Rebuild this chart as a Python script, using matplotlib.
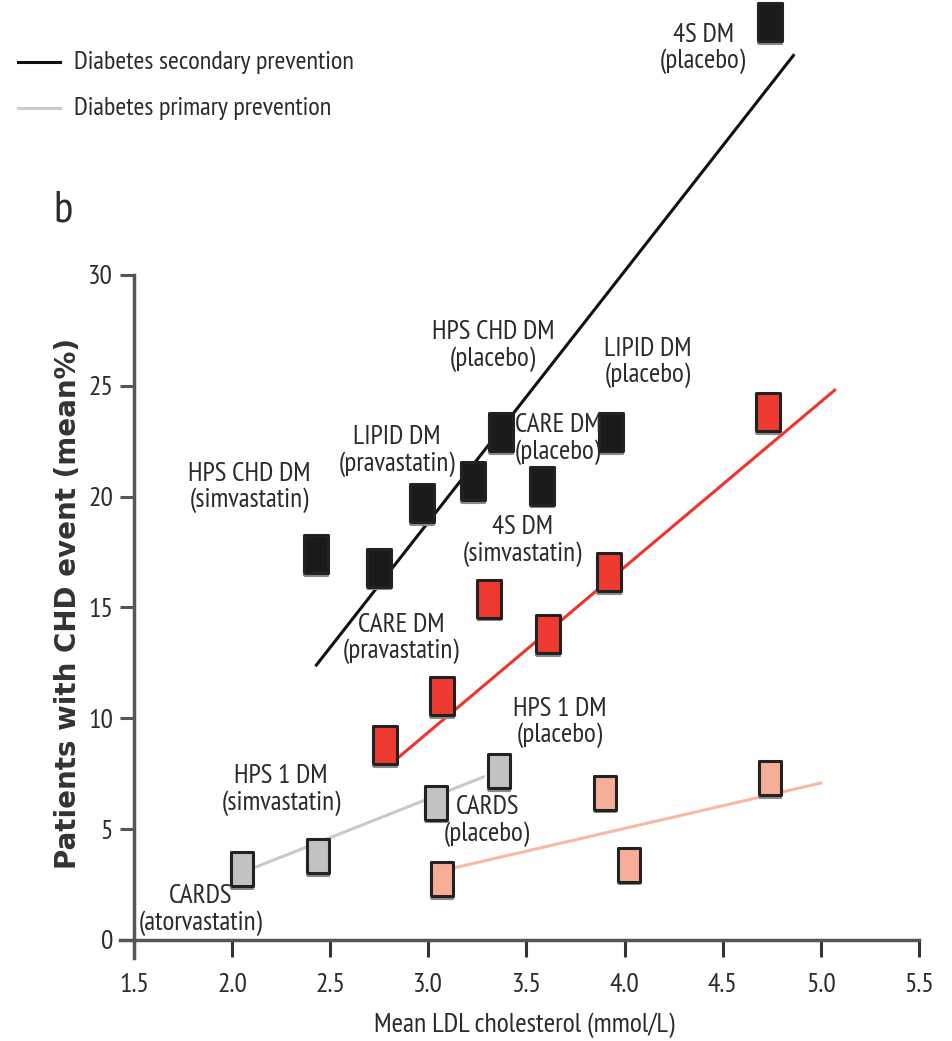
import numpy as np
import matplotlib
matplotlib.use("Agg")
import matplotlib.pyplot as plt
from matplotlib.lines import Line2D

# secondary prevention, placebo/comparator arms (black)
sec_ctrl_x = [2.43, 2.75, 2.97, 3.23, 3.37, 3.58, 3.93, 4.74]
sec_ctrl_y = [17.4, 16.8, 19.7, 20.7, 22.9, 20.5, 22.9, 41.4]
# secondary prevention, second series (red)
sec_trt_x = [2.78, 3.07, 3.31, 3.61, 3.92, 4.73]
sec_trt_y = [8.8, 11.0, 15.4, 13.8, 16.6, 23.8]
# primary prevention (grey)
pri_ctrl_x = [2.05, 2.44, 3.04, 3.36]
pri_ctrl_y = [3.2, 3.8, 6.2, 7.6]
# primary prevention, second series (pink)
pri_trt_x = [3.07, 3.90, 4.02, 4.74]
pri_trt_y = [2.75, 6.65, 3.4, 7.3]

# trend line end points
black_line_x = [2.43, 4.86]
black_line_y = [12.4, 39.9]
red_line_x = [2.85, 5.07]
red_line_y = [8.25, 24.8]
grey_line_x = [2.11, 3.28]
grey_line_y = [3.25, 7.35]
pink_line_x = [3.13, 5.0]
pink_line_y = [3.25, 7.08]

labels = ["4S DM\n(placebo)", "HPS CHD DM\n(placebo)", "LIPID DM\n(placebo)",
          "LIPID DM\n(pravastatin)", "HPS CHD DM\n(simvastatin)", "CARE DM\n(placebo)",
          "4S DM\n(simvastatin)", "CARE DM\n(pravastatin)", "HPS 1 DM\n(placebo)",
          "HPS 1 DM\n(simvastatin)", "CARDS\n(placebo)", "CARDS\n(atorvastatin)"]
label_pos = [(4.40, 40.2), (3.33, 26.8), (4.12, 26.05), (2.84, 22.06), (2.09, 20.4),
             (3.66, 22.6), (3.48, 18.0), (2.86, 13.6), (3.67, 9.8), (2.25, 6.77),
             (3.30, 5.37), (1.84, 1.35)]

xticks = [1.5, 2.0, 2.5, 3.0, 3.5, 4.0, 4.5, 5.0, 5.5]
yticks = [0, 5, 10, 15, 20, 25, 30]

FONT = ["PT Sans Narrow", "Roboto Condensed", "DejaVu Sans"]
TXT = "#2b2b2b"
SPINE = "#555555"

fig = plt.figure(figsize=(9.53, 10.41), dpi=100)
ax = fig.add_axes([0.126, 0.080, 0.8425, 0.92])
ax.set_xlim(1.43, 5.52)
ax.set_ylim(-0.8, 42.4)

rect = [(-0.32, -0.5), (0.32, -0.5), (0.32, 0.5), (-0.32, 0.5), (-0.32, -0.5)]

# trend lines
ax.plot(black_line_x, black_line_y, color="#111111", lw=2.2, zorder=2)
ax.plot(red_line_x, red_line_y, color="#f0332b", lw=2.2, zorder=2)
ax.plot(grey_line_x, grey_line_y, color="#c9c9c9", lw=2.2, zorder=2)
ax.plot(pink_line_x, pink_line_y, color="#f8b8a6", lw=2.2, zorder=2)

def markers(x, y, face, ms):
    # grey "shadow" under each box
    ax.plot(x, np.array(y) - 0.13, ls="none", marker=rect, ms=ms, mfc="#8a8a8a",
            mec="#8a8a8a", mew=1.5, zorder=3)
    ax.plot(x, y, ls="none", marker=rect, ms=ms, mfc=face, mec="#222222",
            mew=2.2, zorder=4)

markers(sec_ctrl_x, sec_ctrl_y, "#1d1a1a", 27)
markers(sec_trt_x, sec_trt_y, "#ee3a31", 27)
markers(pri_ctrl_x, pri_ctrl_y, "#c2c2c2", 25)
markers(pri_trt_x, pri_trt_y, "#f6ae98", 25)

for txt, (px, py) in zip(labels, label_pos):
    ax.text(px, py, txt, ha="center", va="center", fontsize=19.5, family=FONT,
            color=TXT, linespacing=1.1, zorder=5)

# axes styling
for s in ["top", "right"]:
    ax.spines[s].set_visible(False)
ax.spines["left"].set_position(("data", 1.5))
ax.spines["bottom"].set_position(("data", 0))
ax.spines["left"].set_bounds(-0.8, 30)
ax.spines["bottom"].set_bounds(1.43, 5.5)
for s in ["left", "bottom"]:
    ax.spines[s].set_color(SPINE)
    ax.spines[s].set_linewidth(2.5)
ax.set_xticks(xticks)
ax.set_xticklabels(["%.1f" % v for v in xticks])
ax.set_yticks(yticks)
ax.tick_params(axis="x", length=12, width=2.2, color="#333333", pad=12)
ax.tick_params(axis="y", length=10, width=2.2, color=SPINE, pad=5)
for lab in ax.get_xticklabels() + ax.get_yticklabels():
    lab.set_family(FONT)
    lab.set_fontsize(20)
    lab.set_color(TXT)

ax.text(3.49, -3.83, "Mean LDL cholesterol (mmol/L)", ha="center", va="center",
        family=FONT, fontsize=20, color=TXT, clip_on=False)
fig.text(0.071, 0.42, "Patients with CHD event (mean%)", rotation=90, ha="center",
         va="center", fontsize=20, fontweight="bold", color="#333333")

# legend at the top left
fig.add_artist(Line2D([0.019, 0.063], [0.940, 0.940], color="#111111", lw=2.2))
fig.add_artist(Line2D([0.019, 0.063], [0.896, 0.896], color="#cccccc", lw=2.2))
fig.text(0.078, 0.940, "Diabetes secondary prevention", va="center", fontsize=19,
         family=FONT, color=TXT)
fig.text(0.078, 0.896, "Diabetes primary prevention", va="center", fontsize=19,
         family=FONT, color=TXT)
fig.text(0.056, 0.798, "b", va="center", fontsize=32, family=FONT, color=TXT)

fig.savefig("out.png", dpi=100)
